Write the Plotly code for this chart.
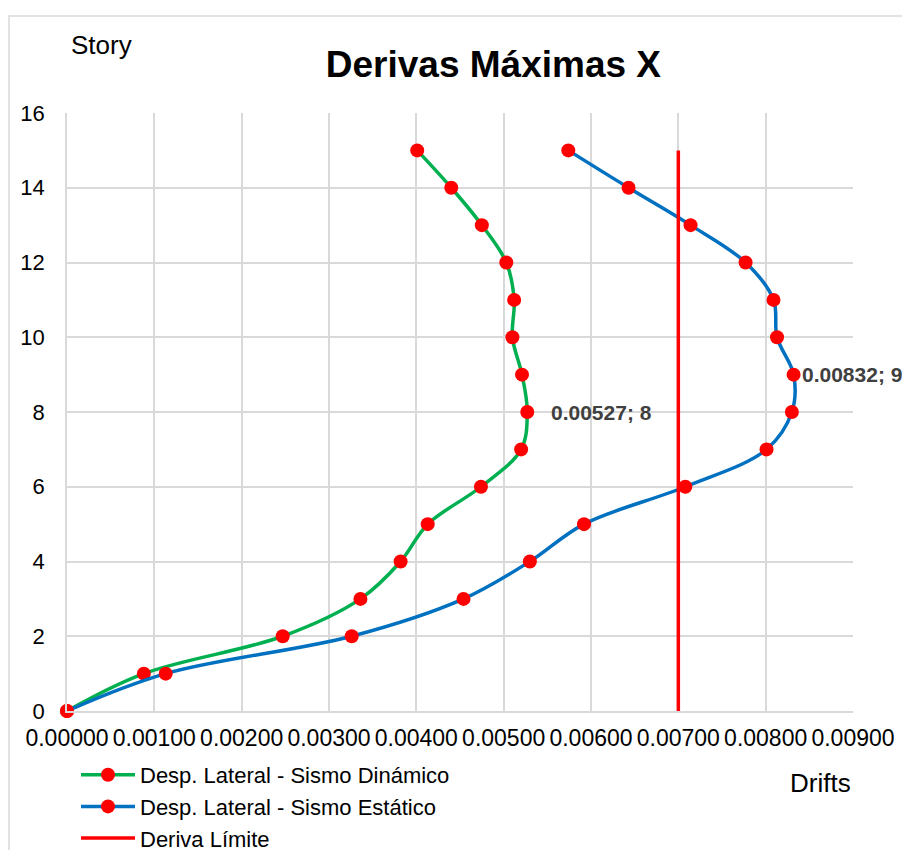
import plotly.graph_objects as go

# storey numbers and drift values
stories = [0, 1, 2, 3, 4, 5, 6, 7, 8, 9, 10, 11, 12, 13, 14, 15]
drift_dinamico = [0.0, 0.00088, 0.00247, 0.00336, 0.00382, 0.00413, 0.00474, 0.00520,
                  0.00527, 0.00521, 0.00510, 0.00512, 0.00503, 0.00475, 0.00440, 0.00401]
drift_estatico = [0.0, 0.00113, 0.00326, 0.00454, 0.00530, 0.00592, 0.00708, 0.00801,
                  0.00830, 0.00832, 0.00813, 0.00809, 0.00777, 0.00714, 0.00643, 0.00574]
limit_x = [0.007, 0.007]
limit_y = [0, 15]

x_ticks = [0.0, 0.001, 0.002, 0.003, 0.004, 0.005, 0.006, 0.007, 0.008, 0.009]
y_ticks = [0, 2, 4, 6, 8, 10, 12, 14, 16]

OFF = 8  # page body margin
W, H = 910 - OFF, 850 - OFF
L, R, T, B = 67 - OFF, 853 - OFF, 113 - OFF, 711 - OFF  # plot area in figure pixels


def px(xp):
    # screen pixel -> paper x
    return (xp - OFF - L) / (R - L)


def py(yp):
    # screen pixel -> paper y
    return (B - (yp - OFF)) / (B - T)


FONT = "Arial, Liberation Sans, sans-serif"

fig = go.Figure()
fig.add_trace(go.Scatter(
    x=drift_dinamico, y=stories, mode="lines+markers",
    name="Desp. Lateral - Sismo Dinámico", cliponaxis=False,
    line=dict(color="#00b050", width=3.5, shape="spline", smoothing=1),
    marker=dict(color="#ff0000", size=14),
))
fig.add_trace(go.Scatter(
    x=drift_estatico, y=stories, mode="lines+markers",
    name="Desp. Lateral - Sismo Estático", cliponaxis=False,
    line=dict(color="#0070c0", width=3.5, shape="spline", smoothing=1),
    marker=dict(color="#ff0000", size=14),
))
fig.add_trace(go.Scatter(
    x=limit_x, y=limit_y, mode="lines", name="Deriva Límite",
    line=dict(color="#ff0000", width=3.5),
))

# data labels for the max points
i_d = drift_dinamico.index(max(drift_dinamico))
i_e = drift_estatico.index(max(drift_estatico))
for xv, yv, shift in [(drift_dinamico[i_d], stories[i_d], 22), (drift_estatico[i_e], stories[i_e], 6)]:
    fig.add_annotation(x=xv, y=yv, text=f"<b>{xv:.5f}; {yv}</b>", showarrow=False,
                       xanchor="left", yanchor="middle", xshift=shift,
                       font=dict(family=FONT, size=21, color="#404040"))

fig.add_annotation(x=px(69), y=py(45), xref="paper", yref="paper", text="Story",
                   showarrow=False, xanchor="left", yanchor="middle",
                   font=dict(family=FONT, size=26, color="black"))
fig.add_annotation(x=px(853), y=py(783), xref="paper", yref="paper", text="Drifts",
                   showarrow=False, xanchor="right", yanchor="middle",
                   font=dict(family=FONT, size=26, color="black"))

shapes = [
    dict(type="rect", xref="paper", yref="paper", x0=px(9), y0=py(16), x1=px(915), y1=py(860),
         line=dict(color="#d9d9d9", width=1.5), fillcolor="rgba(0,0,0,0)", layer="below"),
]

fig.update_layout(
    width=W, height=H,
    margin=dict(l=L, r=W - R, t=T, b=H - B, autoexpand=False),
    paper_bgcolor="white", plot_bgcolor="white",
    title=dict(text="<b>Derivas Máximas X</b>", x=px(490), xanchor="center",
               y=1 - (64 - OFF) / H, yanchor="middle",
               font=dict(family=FONT, size=37, color="black")),
    font=dict(family=FONT, color="black"),
    showlegend=True,
    legend=dict(x=px(76), y=py(754), xanchor="left", yanchor="top",
                font=dict(family=FONT, size=22, color="black"),
                itemwidth=54,
                bgcolor="rgba(0,0,0,0)", tracegroupgap=0),
    shapes=shapes,
)
fig.update_xaxes(range=[0, 0.009], tickvals=x_ticks, tickformat=".5f", tickangle=0,
                 showgrid=True, gridcolor="#d9d9d9", gridwidth=1.5,
                 showline=True, linecolor="#d9d9d9", linewidth=1.5, mirror=False,
                 zeroline=False, ticks="", ticklabelstandoff=6,
                 tickfont=dict(family=FONT, size=23, color="black"))
fig.update_yaxes(range=[0, 16], tickvals=y_ticks, showgrid=True, gridcolor="#d9d9d9",
                 gridwidth=1.5, showline=True, linecolor="#d9d9d9", linewidth=1.5,
                 zeroline=False, ticks="", ticklabelstandoff=16,
                 tickfont=dict(family=FONT, size=22, color="black"))

fig.write_html("out.html")
